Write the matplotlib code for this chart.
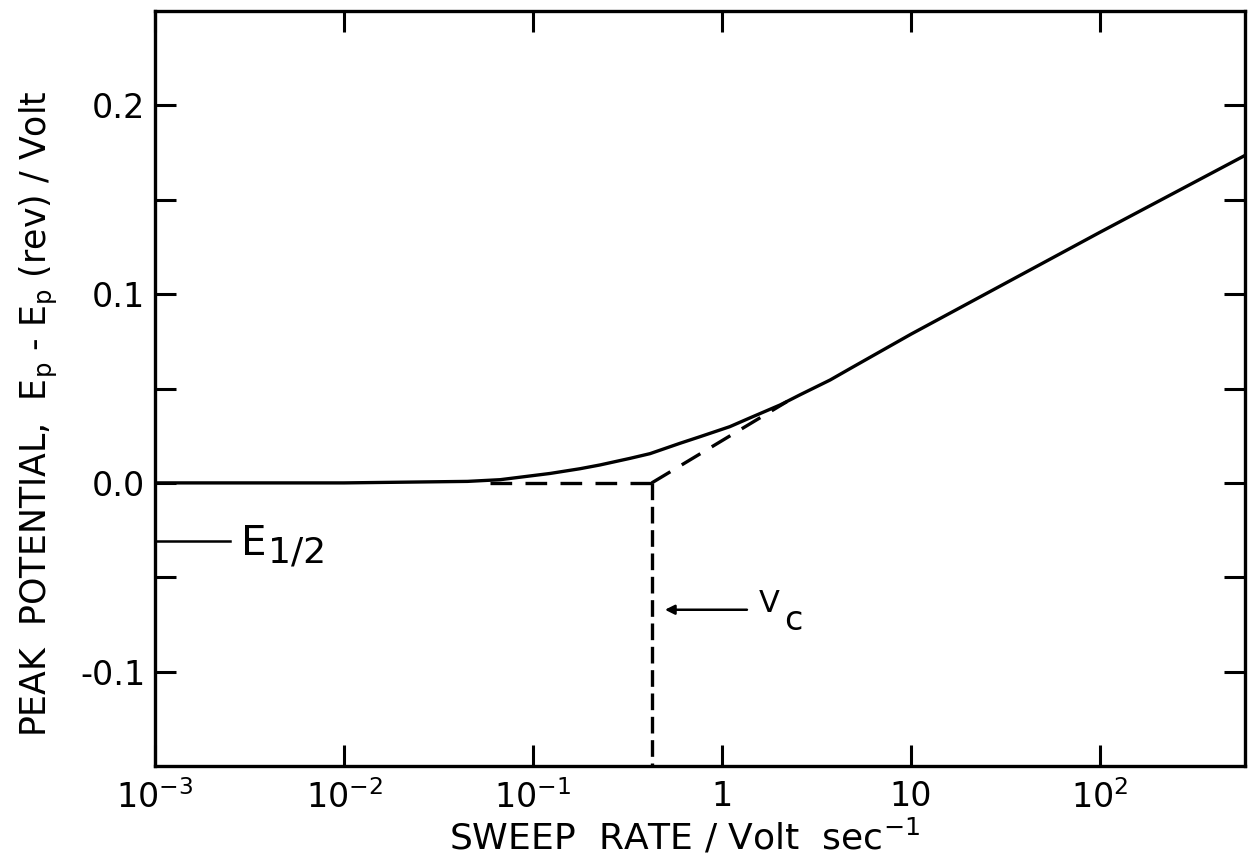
import numpy as np
import matplotlib
matplotlib.use("Agg")
import matplotlib.pyplot as plt

plt.rcParams["font.family"] = ["DejaVu Sans"]
plt.rcParams["mathtext.default"] = "regular"

# --- data ---
sweep = [0.001, 0.01, 0.045, 0.067, 0.123, 0.177, 0.226, 0.326, 0.416, 0.600,
         0.766, 1.10, 1.41, 2.03, 2.59, 3.73, 4.75, 6.85, 10, 100, 585]
peak = [0.0, 0.0, 0.0008, 0.0017, 0.0050, 0.0075, 0.0095, 0.0130, 0.0155, 0.0210,
        0.0245, 0.0298, 0.0345, 0.0413, 0.0467, 0.0545, 0.0605, 0.0695, 0.0788, 0.1328, 0.1735]

flat_x = [0.059, 0.425]
flat_y = [0.0, 0.0]
slope_x = [0.425, 2.2]
slope_y = [0.0, 0.043]
V_C = 0.425
E_HALF = -0.031

xticks = [1e-3, 1e-2, 1e-1, 1, 10, 100]
xlabels = ["$10^{-3}$", "$10^{-2}$", "$10^{-1}$", "1", "10", "$10^{2}$"]
yticks = [-0.1, 0.0, 0.1, 0.2]
ylabels = ["-0.1", "0.0", "0.1", "0.2"]
yminor = [-0.05, 0.05, 0.15]

fig = plt.figure(figsize=(12.49, 8.61), dpi=100, facecolor="white")
ax = fig.add_axes([0.1241, 0.1103, 0.8727, 0.8769])

ax.plot(sweep, peak, color="black", lw=2.4, solid_capstyle="round")
ax.plot(flat_x, flat_y, color="black", lw=2.4, dashes=(6.5, 4))
ax.plot(slope_x, slope_y, color="black", lw=2.4, dashes=(6.5, 4))
ax.plot([V_C, V_C], [0.0, -0.15], color="black", lw=2.4, dashes=(5, 2))

ax.set_xscale("log")
ax.set_xlim(1e-3, 585)
ax.set_ylim(-0.15, 0.25)

ax.set_xticks(xticks)
ax.set_xticklabels(xlabels)
ax.xaxis.set_minor_locator(matplotlib.ticker.NullLocator())
ax.set_yticks(yticks)
ax.set_yticklabels(ylabels)
ax.set_yticks(yminor, minor=True)

ax.tick_params(which="both", direction="in", top=True, right=True,
               length=15, width=2.2, labelsize=24)
ax.tick_params(axis="x", which="both", pad=10)
ax.tick_params(axis="y", which="both", pad=7)
for s in ax.spines.values():
    s.set_linewidth(2.4)

# E1/2 marker
ax.plot([1e-3, 0.0025], [E_HALF, E_HALF], color="black", lw=1.8)
ax.text(0.00285, -0.0381, "E", fontsize=29, va="baseline", ha="left")
ax.text(0.00396, -0.0423, "1/2", fontsize=26, va="baseline", ha="left")

# Vc arrow
ax.annotate("", xy=(0.499, -0.0672), xytext=(1.355, -0.0672),
            arrowprops=dict(arrowstyle="-|>", color="black", lw=1.8,
                            mutation_scale=14, shrinkA=0, shrinkB=0))
ax.text(1.57, -0.0683, "V", fontsize=22, va="baseline", ha="left")
ax.text(2.12, -0.0778, "c", fontsize=24, va="baseline", ha="left")

fig.text(0.548, 0.0128, "SWEEP  RATE / Volt  sec$^{-1}$", fontsize=26,
         ha="center", va="baseline")
fig.text(0.031, 0.519, "PEAK  POTENTIAL,  E$_p$ - E$_p$ (rev) / Volt", fontsize=25,
         rotation=90, ha="center", va="center")

fig.savefig("out.png", dpi=100, facecolor="white")
